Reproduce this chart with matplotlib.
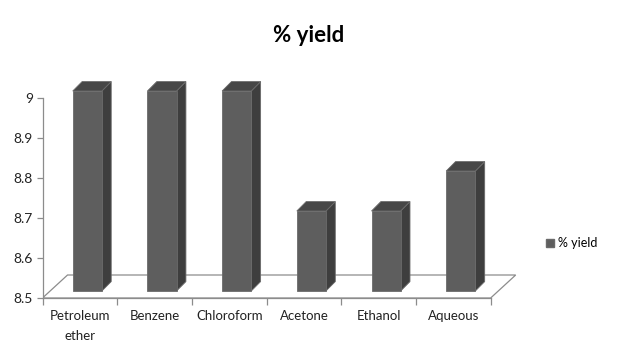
import matplotlib.pyplot as plt
from matplotlib.patches import Polygon, Patch
import numpy as np

plt.rcParams['font.family'] = ['Lato', 'DejaVu Sans']

solvents = ['Petroleum\nether', 'Benzene', 'Chloroform', 'Acetone', 'Ethanol', 'Aqueous']
yields = [9.0, 9.0, 9.0, 8.7, 8.7, 8.8]
y_ticks = [8.5, 8.6, 8.7, 8.8, 8.9, 9]

base = 8.5
# fake 3d depth, in data units (x: categories, y: value)
floor_dx, floor_dy = 0.335, 0.0575
front_dx, front_dy = 0.10, 0.0175
bar_dx, bar_dy = 0.125, 0.0235
w = 0.39

front_col = '#5e5e5e'
side_col = '#3e3e3e'
top_col = '#474747'
edge_col = '#6a6a6a'
axis_col = '#8c8c8c'

fig = plt.figure(figsize=(6.18, 3.56), dpi=100)
ax = fig.add_axes([42.5 / 618, 58 / 356, 485.5 / 618, 240 / 356])
ax.set_xlim(0, 6.5)
ax.set_ylim(8.5, 9.1)

n = len(solvents)
# floor
floor = Polygon([(0, base), (n, base), (n + floor_dx, base + floor_dy), (floor_dx, base + floor_dy)],
                closed=True, facecolor='white', edgecolor=axis_col, lw=0.9, zorder=1)
ax.add_patch(floor)

x = np.arange(n) + 0.5
xl = x - w / 2 + front_dx
xr = xl + w
b0 = base + front_dy
tops = np.array(yields) + front_dy

ax.bar(xl, tops - b0, bottom=b0, width=w, align='edge', color=front_col,
       edgecolor=edge_col, lw=0.6, zorder=3)
for i in range(n):
    side = Polygon([(xr[i], b0), (xr[i], tops[i]), (xr[i] + bar_dx, tops[i] + bar_dy),
                    (xr[i] + bar_dx, b0 + bar_dy)], closed=True,
                   facecolor=side_col, edgecolor=edge_col, lw=0.6, zorder=2)
    top = Polygon([(xl[i], tops[i]), (xr[i], tops[i]), (xr[i] + bar_dx, tops[i] + bar_dy),
                   (xl[i] + bar_dx, tops[i] + bar_dy)], closed=True,
                  facecolor=top_col, edgecolor=edge_col, lw=0.6, zorder=2)
    ax.add_patch(side)
    ax.add_patch(top)

for s in ['top', 'right']:
    ax.spines[s].set_visible(False)
ax.spines['left'].set_bounds(8.5, 9)
ax.spines['bottom'].set_bounds(0, n)
for s in ['left', 'bottom']:
    ax.spines[s].set_color(axis_col)
    ax.spines[s].set_linewidth(0.9)

ax.set_yticks(y_ticks)
ax.set_yticklabels(['8.5', '8.6', '8.7', '8.8', '8.9', '9'])
ax.set_xticks(np.arange(n + 1), minor=False)
ax.set_xticklabels([''] * (n + 1))
ax.set_xticks(x, minor=True)
ax.set_xticklabels(solvents, minor=True, linespacing=1.75)
ax.tick_params(axis='x', which='major', length=5, color=axis_col, width=0.9)
ax.tick_params(axis='x', which='minor', length=0, pad=9, labelsize=9.5, labelcolor='#222222')
ax.tick_params(axis='y', length=4, color=axis_col, width=0.9, labelsize=10,
               labelcolor='#222222', pad=3)

fig.text(0.5, 0.9, '% yield', ha='center', va='center', fontsize=16, fontweight='bold')

fig.legend(handles=[Patch(facecolor=front_col, edgecolor=edge_col, label='% yield')],
           loc='center left', bbox_to_anchor=(535 / 618, 1 - 243 / 356), frameon=False,
           fontsize=9, handlelength=0.6, handleheight=0.6, handletextpad=0.3)

fig.savefig('out.png', dpi=100)
